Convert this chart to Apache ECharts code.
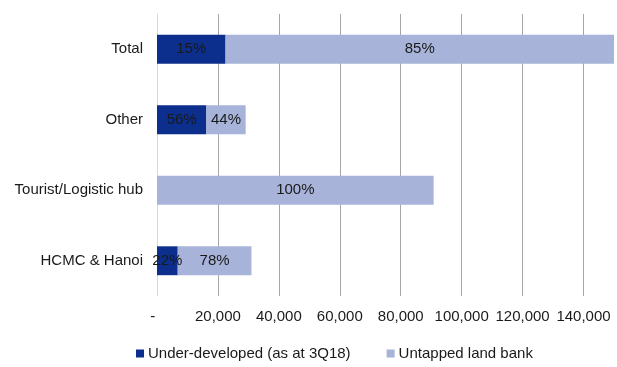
<!DOCTYPE html>
<html>
<head>
<meta charset="utf-8">
<script src="https://cdn.jsdelivr.net/npm/echarts@6/dist/echarts.min.js"></script>
<style>
html,body{margin:0;padding:0;background:#fff;overflow:hidden;}
#chart{width:617px;height:367px;}
</style>
</head>
<body>
<div id="chart"></div>
<script>
const categories = ['HCMC & Hanoi', 'Tourist/Logistic hub', 'Other', 'Total'];
const underDeveloped = [6800, 0, 16200, 22500];
const untapped = [24200, 90800, 12900, 127500];
const seriesNames = ['Under-developed (as at 3Q18)', 'Untapped land bank'];
const xMax = 150000;
const xInterval = 20000;

const totals = categories.map((c, i) => underDeveloped[i] + untapped[i]);
const FONT = '"Liberation Sans", Arial, sans-serif';
const TXT = '#1a1a1a';

function pctLabel(p) {
  if (!p.value) return '';
  return Math.round(p.value / totals[p.dataIndex] * 100) + '%';
}

const chart = echarts.init(document.getElementById('chart'), null, {renderer: 'canvas'});
chart.setOption({
  animation: false,
  backgroundColor: '#ffffff',
  textStyle: {fontFamily: FONT},
  grid: {left: 157, width: 460, top: 14, bottom: 71, containLabel: false},
  legend: {
    left: 136,
    top: 346,
    padding: 0,
    icon: 'rect',
    itemWidth: 8,
    itemHeight: 8,
    itemGap: 36,
    textStyle: {fontFamily: FONT, fontSize: 15, color: TXT, padding: [0, 0, 0, -1]},
    data: seriesNames
  },
  xAxis: {
    type: 'value',
    min: 0,
    max: xMax,
    interval: xInterval,
    axisLine: {show: false},
    axisTick: {show: false},
    splitLine: {show: true, showMinLine: false, showMaxLine: false, lineStyle: {color: '#a6a6a6', width: 1}},
    axisLabel: {
      fontFamily: FONT, fontSize: 15, color: TXT, margin: 13,
      formatter: function (v) {
        if (v === 0) return '-  ';
        if (v >= xMax) return '';
        return v.toLocaleString('en-US');
      }
    }
  },
  yAxis: {
    type: 'category',
    data: categories,
    axisLine: {show: true, lineStyle: {color: '#d9d9d9', width: 1}},
    axisTick: {show: false},
    axisLabel: {fontFamily: FONT, fontSize: 15, color: TXT, margin: 14}
  },
  series: [
    {
      name: seriesNames[0],
      type: 'bar',
      stack: 'land',
      barWidth: '41%',
      data: underDeveloped,
      itemStyle: {color: '#0c2f8d'},
      label: {show: true, position: 'inside', fontFamily: FONT, fontSize: 15, color: TXT, formatter: pctLabel}
    },
    {
      name: seriesNames[1],
      type: 'bar',
      stack: 'land',
      barWidth: '41%',
      data: untapped,
      itemStyle: {color: '#a7b3d9'},
      label: {show: true, position: 'inside', fontFamily: FONT, fontSize: 15, color: TXT, formatter: pctLabel}
    }
  ]
});
</script>
</body>
</html>
